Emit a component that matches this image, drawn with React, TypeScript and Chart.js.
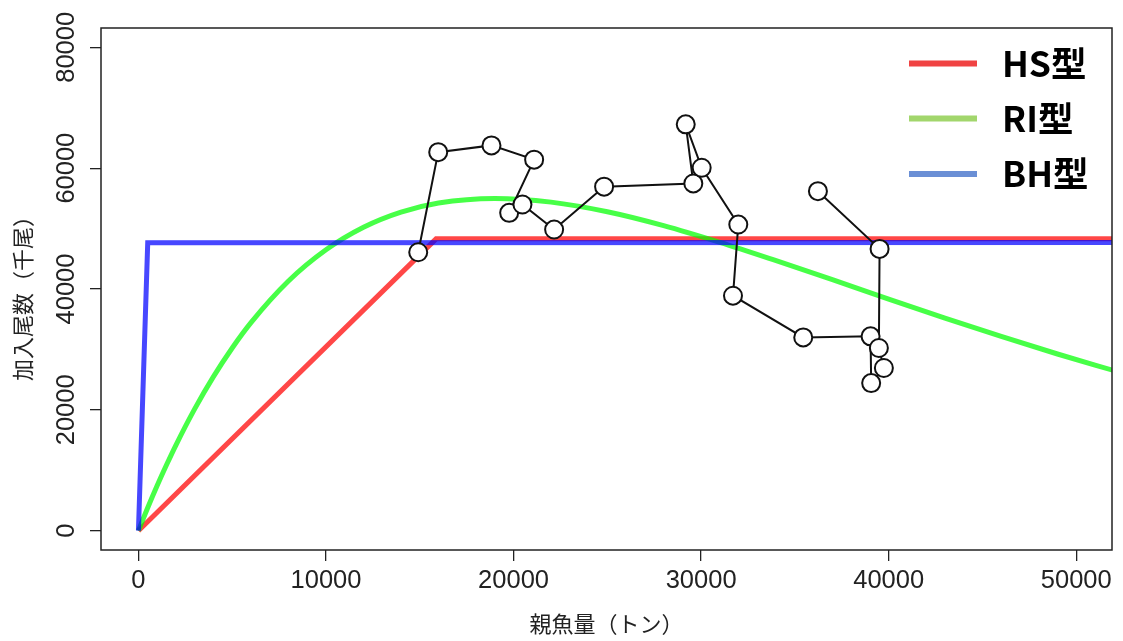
import React, { useEffect, useRef } from "react";
import { Chart, registerables } from "chart.js";

Chart.register(...registerables);

// Axis tick values
const xTicks = [0, 10000, 20000, 30000, 40000, 50000];
const yTicks = [0, 20000, 40000, 60000, 80000];

// Observed spawning stock (tons) and recruits (thousands), in time order
const obsSSB = [14917, 15983, 18823, 21097, 19766, 20474, 22163, 24827, 29584, 29180, 30030, 31982, 31700, 35445, 39035, 39067, 39744, 39478, 39515, 36228];
const obsRecruit = [46080, 62650, 63770, 61410, 52610, 53990, 49840, 56940, 57470, 67250, 60070, 50670, 38890, 31990, 32160, 24430, 26920, 30230, 46640, 56190];

// Hockey-stick model
const hsSSB = [0, 15870, 52000];
const hsRecruit = [0, 48300, 48300];

// Ricker model
const riSSB = [0, 500, 1000, 1500, 2000, 3000, 4000, 5000, 6000, 8000, 10000, 12000, 14000, 16000, 19000, 22000, 25000, 28000, 31000, 34000, 37000, 40000, 43000, 46000, 49000, 52000];
const riRecruit = [0, 3830, 7465, 10900, 14170, 20160, 25500, 30240, 34430, 41320, 46490, 50220, 52730, 54240, 55000, 54380, 52780, 50480, 47710, 44680, 41550, 38340, 35190, 32140, 29240, 26510];

// Beverton-Holt model
const bhSSB = [0, 495, 52000];
const bhRecruit = [0, 47640, 47700];

// Legend entries
const legendLabels = ["HS型", "RI型", "BH型"];
const legendColors = ["#f04343", "#a2d66c", "#6a8fd5"];

const xTitle = "親魚量（トン）";
const yTitle = "加入尾数（千尾）";

const toPoints = (xs: number[], ys: number[]) => xs.map((x, i) => ({ x, y: ys[i] }));

const INK = "#222";

const framePlugin = {
  id: "frameAndText",
  afterDraw(chart: any) {
    const { ctx, chartArea: a, scales } = chart;
    ctx.save();
    // box around the plot region
    ctx.strokeStyle = INK;
    ctx.lineWidth = 1.5;
    ctx.strokeRect(a.left, a.top, a.right - a.left, a.bottom - a.top);

    // tick labels
    ctx.fillStyle = INK;
    ctx.font = '25.5px "Liberation Sans", Arial, sans-serif';
    ctx.textAlign = "center";
    ctx.textBaseline = "middle";
    xTicks.forEach((v) => {
      ctx.fillText(String(v), scales.x.getPixelForValue(v), a.bottom + 31);
    });
    yTicks.forEach((v) => {
      const y = scales.y.getPixelForValue(v);
      ctx.save();
      ctx.translate(a.left - 34, y);
      ctx.rotate(-Math.PI / 2);
      ctx.fillText(String(v), 0, 0);
      ctx.restore();
    });

    // axis titles
    ctx.font = '22px "Noto Sans CJK JP", sans-serif';
    ctx.fillText(xTitle, (a.left + a.right) / 2, a.bottom + 74);
    ctx.save();
    ctx.translate(23, (a.top + a.bottom) / 2 + 4);
    ctx.rotate(-Math.PI / 2);
    ctx.fillText(yTitle, 0, 0);
    ctx.restore();

    // legend
    const rowsY = [63.5, 118.5, 174];
    ctx.lineWidth = 6;
    ctx.lineCap = "butt";
    ctx.textAlign = "left";
    ctx.font = 'bold 35.5px "Noto Sans CJK JP", sans-serif';
    legendLabels.forEach((label, i) => {
      ctx.strokeStyle = legendColors[i];
      ctx.beginPath();
      ctx.moveTo(909, rowsY[i]);
      ctx.lineTo(977, rowsY[i]);
      ctx.stroke();
      ctx.fillStyle = "#000";
      ctx.fillText(label, 1002, rowsY[i]);
    });
    ctx.restore();
  },
};

export default function App() {
  const ref = useRef<HTMLCanvasElement>(null);

  useEffect(() => {
    if (!ref.current) return;
    const chart = new Chart(ref.current, {
      type: "scatter",
      data: {
        datasets: [
          {
            label: "観測値",
            data: toPoints(obsSSB, obsRecruit),
            showLine: true,
            borderColor: "#111",
            borderWidth: 2,
            pointRadius: 9,
            pointBorderWidth: 2,
            pointBackgroundColor: "#fff",
            pointBorderColor: "#111",
            order: 0,
          },
          {
            label: "BH型",
            data: toPoints(bhSSB, bhRecruit),
            showLine: true,
            borderColor: "rgba(0,0,255,0.72)",
            borderWidth: 5,
            pointRadius: 0,
            order: 1,
          },
          {
            label: "RI型",
            data: toPoints(riSSB, riRecruit),
            showLine: true,
            cubicInterpolationMode: "monotone",
            borderColor: "rgba(0,255,0,0.72)",
            borderWidth: 5,
            pointRadius: 0,
            order: 2,
          },
          {
            label: "HS型",
            data: toPoints(hsSSB, hsRecruit),
            showLine: true,
            borderColor: "rgba(255,0,0,0.72)",
            borderWidth: 5,
            pointRadius: 0,
            order: 3,
          },
        ],
      },
      options: {
        responsive: false,
        animation: false,
        events: [],
        layout: { padding: { top: 28, right: 10, left: 0, bottom: 0 } },
        plugins: {
          legend: { display: false },
          tooltip: { enabled: false },
        },
        scales: {
          x: {
            type: "linear",
            min: -1996,
            max: 51907,
            border: { display: false },
            grid: {
              drawOnChartArea: false,
              drawTicks: true,
              tickLength: 11,
              color: INK,
              tickColor: INK,
              lineWidth: 1.3,
            },
            ticks: { display: false },
            afterBuildTicks: (scale: any) => {
              scale.ticks = xTicks.map((v) => ({ value: v }));
            },
            afterFit: (scale: any) => {
              scale.height = 91;
            },
          },
          y: {
            type: "linear",
            min: -3200,
            max: 83200,
            border: { display: false },
            grid: {
              drawOnChartArea: false,
              drawTicks: true,
              tickLength: 11,
              color: INK,
              tickColor: INK,
              lineWidth: 1.3,
            },
            ticks: { display: false },
            afterBuildTicks: (scale: any) => {
              scale.ticks = yTicks.map((v) => ({ value: v }));
            },
            afterFit: (scale: any) => {
              scale.width = 101;
            },
          },
        },
      },
      plugins: [framePlugin],
    });
    return () => chart.destroy();
  }, []);

  return (
    <div style={{ position: "fixed", left: 0, top: 0, width: 1123, height: 641, background: "#fff" }}>
      <canvas ref={ref} width={1123} height={641} style={{ display: "block", width: 1123, height: 641 }} />
    </div>
  );
}
